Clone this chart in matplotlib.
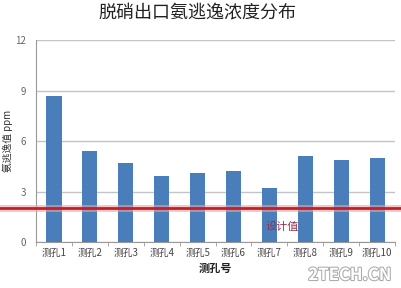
import matplotlib
matplotlib.use("Agg")
import matplotlib.pyplot as plt
from matplotlib.lines import Line2D
import matplotlib.patheffects as pe

plt.rcParams['font.family'] = ['Noto Sans CJK SC', 'DejaVu Sans']

categories = ['测孔1', '测孔2', '测孔3', '测孔4', '测孔5', '测孔6', '测孔7', '测孔8', '测孔9', '测孔10']
values = [8.7, 5.4, 4.7, 3.9, 4.1, 4.2, 3.2, 5.1, 4.9, 5.0]
design_value = 2.0
yticks = [0, 3, 6, 9, 12]

fig = plt.figure(figsize=(4.02, 2.88), dpi=100)
ax = fig.add_axes([0.0896, 0.1597, 0.893, 0.701])

x = list(range(len(categories)))
ax.bar(x, values, width=0.42, color='#4a7ebb', zorder=3)
ax.set_xlim(-0.5, len(categories) - 0.5)
ax.set_ylim(0, 12)
ax.set_yticks(yticks)
ax.set_yticklabels([str(t) for t in yticks], color='#666666', fontsize=7)
ax.yaxis.grid(True, color='#c4c4c4', linewidth=1.0, zorder=0)
ax.tick_params(axis='y', length=0, pad=7)

ax.set_xticks(x)
ax.set_xticklabels(categories, fontsize=7, color='#444444')
ax.tick_params(axis='x', length=0, pad=4)
ax.set_xticks([i + 0.5 for i in range(-1, len(categories))], minor=True)
ax.tick_params(axis='x', which='minor', length=3, color='#999999')

for s in ['top', 'right']:
    ax.spines[s].set_visible(False)
ax.spines['left'].set_color('#999999')
ax.spines['bottom'].set_color('#999999')

ax.set_ylabel('氨逃逸值 ppm', fontsize=7, color='#333333', labelpad=2)
ax.set_xlabel('测孔号', fontsize=8, fontweight='bold', color='#222222', labelpad=3)

y_disp = ax.transData.transform((0, design_value))[1]
y_fig = fig.transFigure.inverted().transform((0, y_disp))[1]
fig.add_artist(Line2D([0, 1], [y_fig, y_fig], color='#f2a0a0', linewidth=5, alpha=0.6, transform=fig.transFigure, zorder=4))
fig.add_artist(Line2D([0, 1], [y_fig, y_fig], color='#c0202a', linewidth=2, transform=fig.transFigure, zorder=5))

ax.text(6.35, 0.9, '设计值', fontsize=8, color='#9a3050', ha='center', va='center', zorder=6)

fig.text(0.49, 0.955, '脱硝出口氨逃逸浓度分布', ha='center', va='center', fontsize=13, color='#222222')

fig.text(0.87, 0.045, '2TECH.CN', ha='center', va='center', fontsize=12, color='white', fontweight='bold',
         path_effects=[pe.withStroke(linewidth=1.5, foreground='#aaaaaa')])

fig.savefig('out.png', dpi=100)
